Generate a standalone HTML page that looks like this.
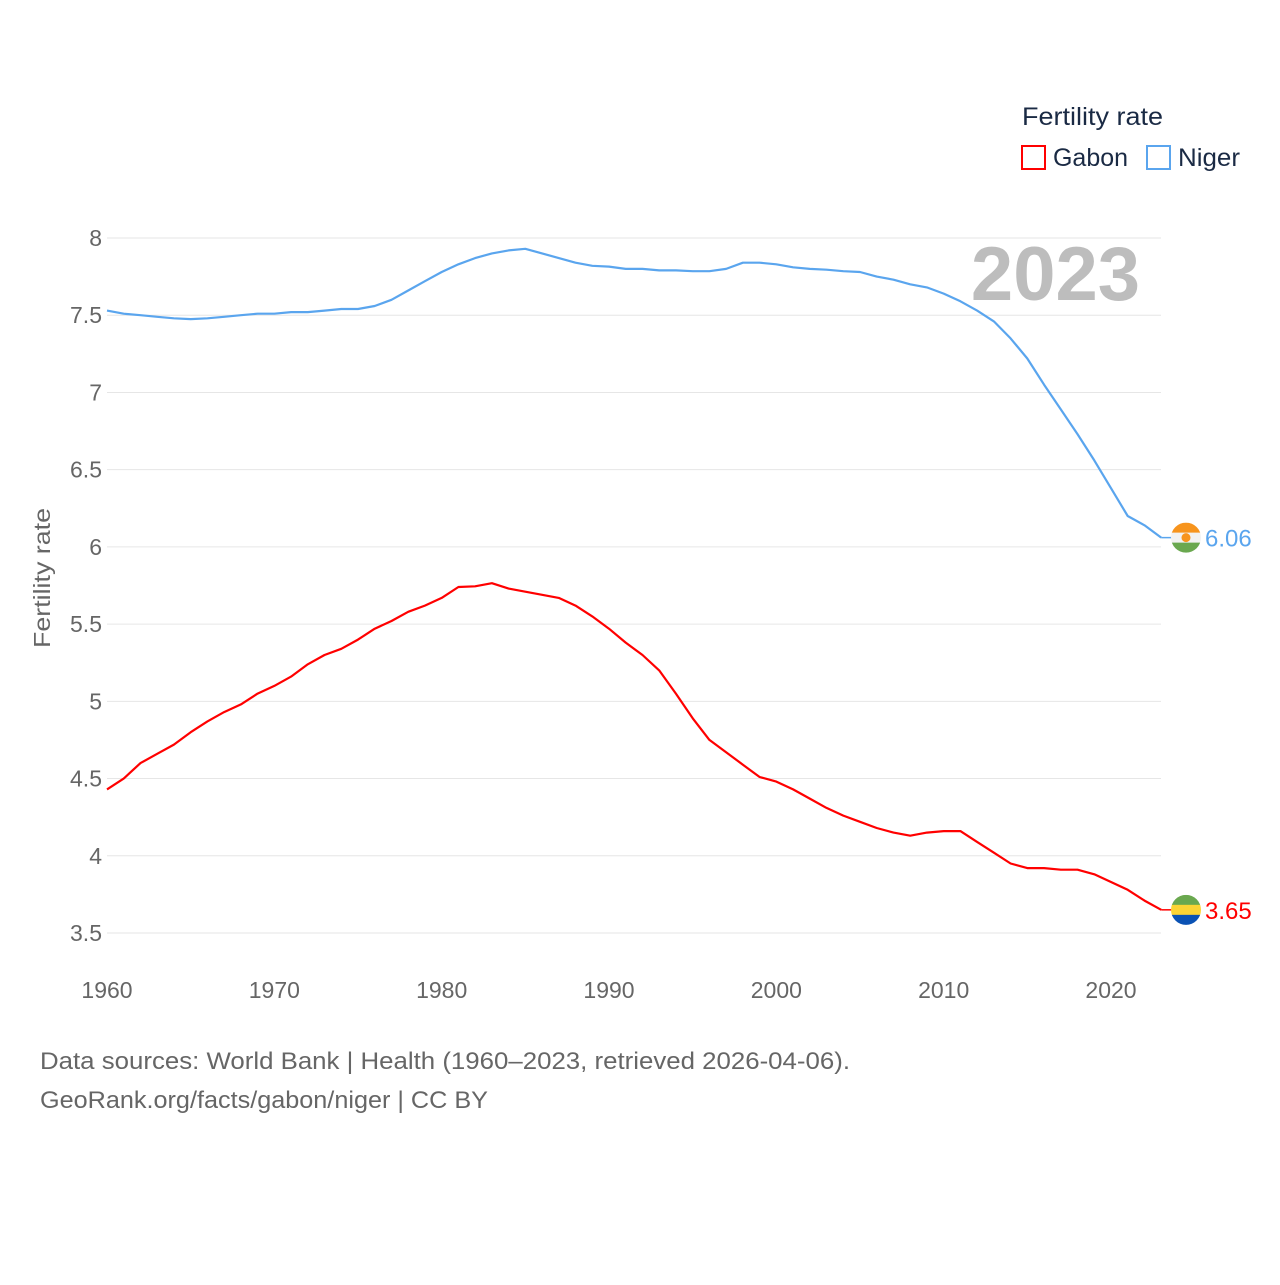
<!DOCTYPE html>
<html><head><meta charset="utf-8">
<style>
body{margin:0;background:#fff;font-family:"Liberation Sans",sans-serif;}
svg text{font-family:"Liberation Sans",sans-serif;}
</style></head>
<body>
<svg id="chart" width="1280" height="1280" xmlns="http://www.w3.org/2000/svg">
  <g id="grid"></g>
  <g id="yticks"></g>
  <g id="xticks"></g>
  <text x="1140" y="300" text-anchor="end" font-size="76" font-weight="bold" fill="#bdbdbd">2023</text>
  <text transform="translate(50,578) rotate(-90)" text-anchor="middle" font-size="23" fill="#666" textLength="140" lengthAdjust="spacingAndGlyphs">Fertility rate</text>
  <g id="series"></g>
  <g>
    <text x="1022" y="125" font-size="25" fill="#1a2a44" textLength="141" lengthAdjust="spacingAndGlyphs">Fertility rate</text>
    <g>
      <rect x="1022" y="146" width="23" height="23" fill="none" stroke="#ff0000" stroke-width="2"/>
      <text x="1053" y="166" font-size="25" fill="#1a2a44" textLength="75" lengthAdjust="spacingAndGlyphs">Gabon</text>
    </g>
    <g>
      <rect x="1147" y="146" width="23" height="23" fill="none" stroke="#5aa5ee" stroke-width="2"/>
      <text x="1178" y="166" font-size="25" fill="#1a2a44" textLength="62" lengthAdjust="spacingAndGlyphs">Niger</text>
    </g>
  </g>
  <text x="40" y="1069" font-size="24" fill="#666" textLength="810" lengthAdjust="spacingAndGlyphs">Data sources: World Bank | Health (1960–2023, retrieved 2026-04-06).</text>
  <text x="40" y="1108" font-size="24" fill="#666" textLength="448" lengthAdjust="spacingAndGlyphs">GeoRank.org/facts/gabon/niger | CC BY</text>
</svg>
<script>
const years = Array.from({length:64},(_,i)=>1960+i);
const nigerValues = [7.53,7.51,7.50,7.49,7.48,7.475,7.48,7.49,7.50,7.51,7.51,7.52,7.52,7.53,7.54,7.54,7.56,7.60,7.66,7.72,7.78,7.83,7.87,7.90,7.92,7.93,7.90,7.87,7.84,7.82,7.815,7.80,7.80,7.79,7.79,7.785,7.785,7.80,7.84,7.84,7.83,7.81,7.80,7.795,7.785,7.78,7.75,7.73,7.70,7.68,7.64,7.59,7.53,7.46,7.35,7.22,7.05,6.89,6.73,6.56,6.38,6.20,6.14,6.06];
const gabonValues = [4.43,4.50,4.60,4.66,4.72,4.80,4.87,4.93,4.98,5.05,5.10,5.16,5.24,5.30,5.34,5.40,5.47,5.52,5.58,5.62,5.67,5.74,5.745,5.765,5.73,5.71,5.69,5.67,5.62,5.55,5.47,5.38,5.30,5.20,5.05,4.89,4.75,4.67,4.59,4.51,4.48,4.43,4.37,4.31,4.26,4.22,4.18,4.15,4.13,4.15,4.16,4.16,4.09,4.02,3.95,3.92,3.92,3.91,3.91,3.88,3.83,3.78,3.71,3.65];
const yTicks = [3.5,4,4.5,5,5.5,6,6.5,7,7.5,8];
const yTickLabels = ["3.5","4","4.5","5","5.5","6","6.5","7","7.5","8"];
const xTicks = [1960,1970,1980,1990,2000,2010,2020];

const NS="http://www.w3.org/2000/svg";
const xS = y => 107 + (y-1960)*(1111-107)/60;
const yS = v => 238 + (8-v)*(933-238)/4.5;
function mk(tag, attrs, parent){const e=document.createElementNS(NS,tag);for(const k in attrs)e.setAttribute(k,attrs[k]);parent.appendChild(e);return e;}
const grid=document.getElementById('grid'), yt=document.getElementById('yticks'), xt=document.getElementById('xticks'), ser=document.getElementById('series');
yTicks.forEach((v,i)=>{
  const l=mk('line',{x1:107,x2:1161,y1:yS(v),y2:yS(v),stroke:'#e6e6e6','stroke-width':1},grid);
  
  
  const t=mk('text',{x:102,y:yS(v)+8,'text-anchor':'end','font-size':23,fill:'#666'},yt);
  t.textContent=yTickLabels[i];
  
  
});
xTicks.forEach(y=>{
  const t=mk('text',{x:xS(y),y:998,'text-anchor':'middle','font-size':23,fill:'#666'},xt);
  t.textContent=y;
  
  
});
function line(vals,color,name){
  const d=vals.map((v,i)=>(i?'L':'M')+xS(years[i]).toFixed(1)+' '+yS(v).toFixed(1)).join(' ');
  const p=mk('path',{d:d,fill:'none',stroke:color,'stroke-width':2.2,'stroke-linejoin':'round'},ser);
  
  
  const last=vals[vals.length-1];
  const lx=xS(years[years.length-1]), ly=yS(last);
  mk('line',{x1:lx,x2:lx+12,y1:ly,y2:ly,stroke:color,'stroke-width':1.5},ser);
  return {ly:ly,last:last};
}
const n=line(nigerValues,'#5aa5ee','line-niger');
const g=line(gabonValues,'#ff0000','line-gabon');
function flag(cy,stripes,name,dot){
  const cx=1186,r=15;
  const grp=mk('g',{},ser);
  
  
  const id='clip'+name;
  const cp=mk('clipPath',{id:id},grp);mk('circle',{cx:cx,cy:cy,r:r},cp);
  const gg=mk('g',{'clip-path':'url(#'+id+')'},grp);
  stripes.forEach((c,i)=>mk('rect',{x:cx-r,y:cy-r+i*2*r/3,width:2*r,height:2*r/3+0.5,fill:c},gg));
  if(dot) mk('circle',{cx:cx,cy:cy,r:4.5,fill:dot},grp);
}
flag(n.ly,['#f7941d','#f2f2f2','#6aa84f'],'flag-niger','#f7941d');
flag(g.ly,['#6aa84f','#fcd434','#0a52b4'],'flag-gabon',null);
const t1=mk('text',{x:1205,y:n.ly+9,'font-size':24,fill:'#5aa5ee'},ser);t1.textContent=n.last.toFixed(2);


const t2=mk('text',{x:1205,y:g.ly+9,'font-size':24,fill:'#ff0000'},ser);t2.textContent=g.last.toFixed(2);


</script>
</body></html>
